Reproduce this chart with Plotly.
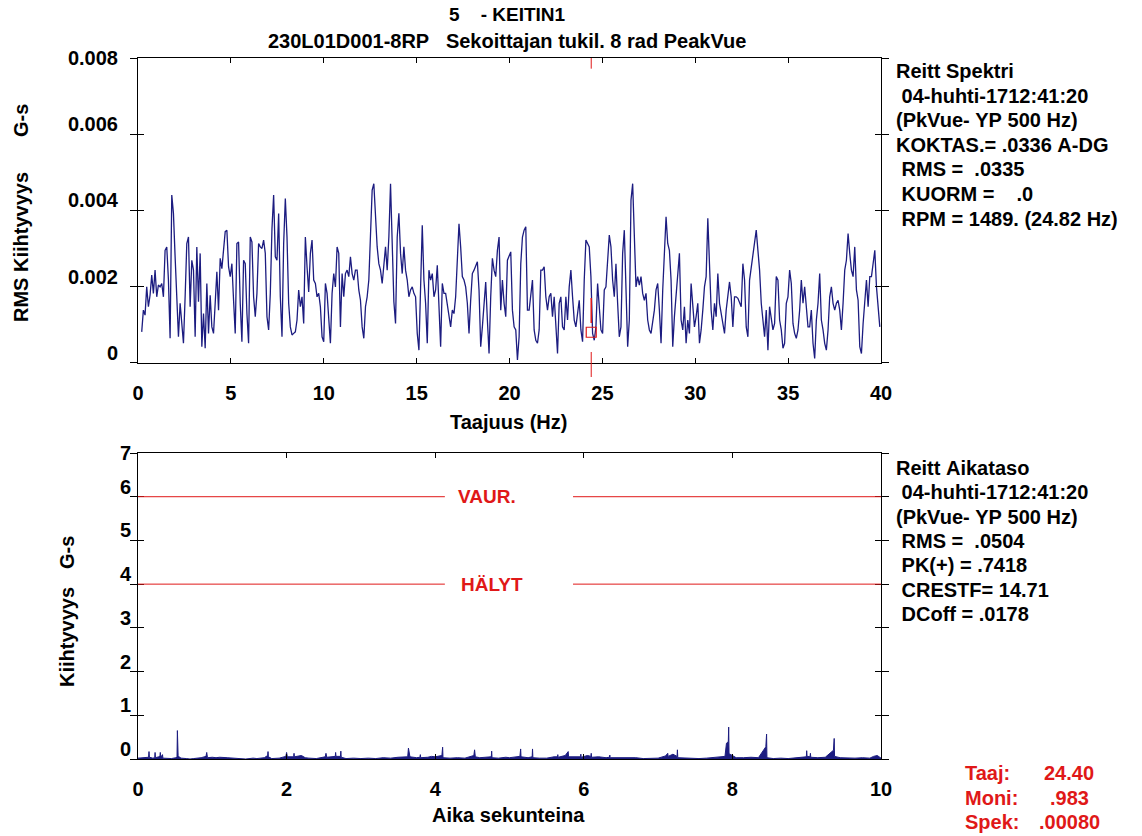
import plotly.graph_objects as go

# ---------------- data ----------------
# Spectrum (RMS acceleration, in milli G-s), uniform line spacing
spec_f0_hz = 0.2
spec_df_hz = 0.0899
spec_mg = [
    0.81, 1.38, 1.25, 1.99, 1.47, 1.77, 2.30, 1.82, 2.43, 1.73,
    2.04, 1.99, 2.08, 1.73, 2.95, 3.04, 2.17, 0.64, 4.40, 3.92,
    2.78, 1.56, 0.68, 1.56, 1.03, 0.51, 1.73, 3.13, 3.30, 1.47,
    2.69, 2.43, 0.68, 3.04, 1.60, 2.87, 0.42, 1.29, 0.38, 2.08,
    0.77, 1.77, 0.94, 0.77, 1.56, 2.39, 1.38, 2.74, 2.47, 2.87,
    3.44, 3.48, 2.52, 2.26, 2.60, 1.64, 0.77, 3.13, 3.17, 1.56,
    0.55, 2.69, 2.60, 1.29, 0.51, 3.30, 3.17, 1.73, 1.21, 1.82,
    3.13, 3.04, 3.00, 3.22, 2.87, 1.21, 0.86, 1.82, 3.52, 4.40,
    2.78, 2.69, 3.92, 1.73, 0.68, 3.13, 4.31, 3.30, 1.56, 0.94,
    0.73, 0.77, 0.81, 1.12, 1.91, 1.47, 1.73, 1.03, 3.30, 2.52,
    1.86, 2.87, 3.22, 2.17, 2.08, 1.73, 1.82, 1.47, 0.68, 0.55,
    2.08, 1.82, 1.21, 0.51, 1.82, 2.34, 1.99, 3.04, 2.87, 0.94,
    2.34, 1.73, 2.34, 2.43, 2.26, 2.78, 2.34, 2.17, 2.43, 2.43,
    1.91, 1.64, 0.94, 0.64, 1.47, 1.73, 2.17, 3.39, 4.53, 4.70,
    3.74, 3.04, 2.60, 2.43, 2.08, 2.69, 3.04, 2.43, 3.30,
    4.70, 3.30, 1.60, 1.03, 3.30, 3.92, 2.87, 2.34, 3.04, 2.43,
    2.17, 1.73, 1.91, 1.99, 1.82, 1.73, 0.77, 0.33, 2.43, 3.61,
    2.17, 1.56, 0.51, 2.43, 2.17, 2.34, 1.73, 1.91, 2.56, 1.21,
    0.42, 2.08, 1.82, 1.82, 1.56, 1.21, 0.94, 1.38, 1.29, 1.73,
    2.95, 3.65, 3.04, 2.26, 2.17, 1.99, 1.56, 0.77, 1.64, 2.34,
    2.43, 2.52, 2.65, 1.91, 0.42, 0.94, 1.56, 2.12, 1.12, 0.24,
    1.73, 2.74, 2.43, 2.26, 2.95, 3.30, 1.38, 2.17, 1.56, 1.21,
    2.69, 2.78, 2.91, 1.38, 0.94, 0.86, 0.07, 0.68, 2.60, 3.30,
    3.48, 3.57, 1.38, 1.38, 1.73, 2.17, 0.86, 0.59, 0.51, 0.86,
    2.43, 2.43, 2.52, 1.73, 1.38, 1.73, 1.82, 1.21, 1.73, 0.77,
    0.24, 1.56, 1.73, 0.94, 0.86, 1.73, 1.12, 1.99, 2.43, 1.73,
    1.12, 0.94, 1.29, 1.64, 0.86, 0.55, 2.17, 3.22, 3.13, 3.04,
    2.26, 0.77, 0.59, 0.94, 2.08, 1.38, 0.86, 0.77, 1.91, 1.99,
    2.87, 3.35, 3.04, 2.17, 1.73, 2.60, 1.56, 0.68, 0.94, 2.87,
    3.48, 1.82, 0.42, 1.12, 4.27, 4.70,
    3.30, 1.99, 2.26, 2.04, 2.26, 1.82, 1.64, 1.82, 1.12, 0.86,
    0.77, 1.03, 1.38, 1.91, 2.08, 1.38, 0.51, 1.91, 2.95, 3.83,
    3.13, 2.95, 2.17, 0.42, 1.21, 1.73, 2.17, 2.87, 1.12, 0.86,
    1.47, 0.51, 1.12, 0.77, 2.08, 1.56, 0.94, 1.21, 1.56, 0.51,
    0.86, 1.38, 1.99, 2.26, 3.79, 2.60, 1.38, 0.86, 1.56, 1.21,
    2.34, 1.56, 1.29, 1.12, 0.77, 1.38, 1.82, 2.12, 1.73, 0.94,
    1.73, 1.73, 1.69, 1.56, 1.47, 2.60, 2.17, 0.94, 0.68, 2.17,
    2.52, 2.87, 3.22, 3.48, 2.95, 2.43, 1.56, 1.03, 0.68, 1.38,
    0.33, 1.47, 1.21, 0.86, 1.03, 2.26, 2.17, 1.12, 0.86, 0.38,
    0.51, 1.56, 1.73, 2.43, 2.08, 1.03, 0.77, 0.64, 0.86, 1.38,
    2.17, 1.56, 1.99, 1.38, 0.94, 0.94, 1.38, 0.51, 0.11, 1.12,
    1.56, 2.34, 1.12, 0.86, 0.51, 0.33, 0.86, 1.73, 1.99, 1.56,
    1.38, 1.56, 1.64, 1.38, 0.86, 1.56, 2.43, 2.69, 3.39, 2.87,
    2.43, 2.26, 3.04, 1.91, 1.64, 0.42, 0.24, 1.03, 1.73, 2.17,
    1.47, 2.26, 2.26, 2.56, 2.95, 1.99, 1.56, 0.94,
]
spec_freq = [spec_f0_hz + i * spec_df_hz for i in range(len(spec_mg))]
spec_gs = [v / 1000.0 for v in spec_mg]

# Time waveform (PeakVue, G-s)
wave_t = [
    0.00, 0.06, 0.10, 0.143, 0.148, 0.153, 0.20, 0.225, 0.23, 0.235,
    0.28, 0.295, 0.30, 0.305, 0.325, 0.33, 0.335, 0.40, 0.45, 0.51,
    0.525, 0.53, 0.535, 0.54, 0.55, 0.58, 0.65, 0.70, 0.75, 0.80,
    0.85, 0.915, 0.925, 0.935, 1.00, 1.05, 1.10, 1.20, 1.30, 1.35,
    1.45, 1.55, 1.60, 1.70, 1.745, 1.75, 1.755, 1.80, 1.90, 1.99,
    2.00, 2.01, 2.06, 2.095, 2.10, 2.105, 2.20, 2.25, 2.30, 2.40,
    2.52, 2.53, 2.54, 2.62, 2.655, 2.66, 2.665, 2.725, 2.73, 2.735,
    2.80, 2.90, 3.00, 3.10, 3.20, 3.30, 3.40, 3.50, 3.63, 3.64,
    3.65, 3.66, 3.75, 3.795, 3.80, 3.805, 3.90, 3.95, 4.00, 4.09,
    4.10, 4.105, 4.20, 4.30, 4.40, 4.52, 4.53, 4.54, 4.60, 4.70,
    4.755, 4.76, 4.765, 4.85, 4.95, 5.00, 5.14, 5.15, 5.155, 5.25,
    5.305, 5.31, 5.315, 5.40, 5.50, 5.60, 5.645, 5.65, 5.655, 5.75,
    5.79, 5.795, 5.90, 5.955, 5.96, 5.965, 6.05, 6.095, 6.10, 6.105,
    6.20, 6.30, 6.345, 6.35, 6.355, 6.50, 6.60, 6.70, 6.80, 6.90,
    7.00, 7.10, 7.13, 7.135, 7.20, 7.255, 7.26, 7.265, 7.40, 7.45,
    7.55, 7.65, 7.75, 7.90, 7.92, 7.945, 7.95, 7.955, 7.98, 8.05,
    8.15, 8.25, 8.35, 8.45, 8.46, 8.465, 8.55, 8.65, 8.75, 8.85,
    8.95, 8.995, 9.00, 9.005, 9.045, 9.05, 9.055, 9.15, 9.25, 9.36,
    9.37, 9.375, 9.45, 9.55, 9.65, 9.75, 9.85, 9.90, 9.95, 10.00,
]
wave_g = [
    0.02, 0.03, 0.02, 0.04, 0.17, 0.04, 0.02, 0.03, 0.15, 0.03,
    0.05, 0.06, 0.15, 0.08, 0.06, 0.10, 0.02, 0.02, 0.01, 0.03,
    0.04, 0.65, 0.30, 0.08, 0.05, 0.02, 0.01, 0.00, 0.01, 0.02,
    0.03, 0.06, 0.15, 0.03, 0.04, 0.03, 0.04, 0.03, 0.02, 0.01,
    0.00, 0.02, 0.01, 0.03, 0.08, 0.17, 0.05, 0.01, 0.02, 0.06,
    0.15, 0.05, 0.04, 0.05, 0.13, 0.05, 0.08, 0.03, 0.02, 0.01,
    0.05, 0.13, 0.04, 0.05, 0.06, 0.15, 0.06, 0.06, 0.18, 0.04,
    0.01, 0.02, 0.01, 0.02, 0.01, 0.03, 0.02, 0.04, 0.05, 0.25,
    0.15, 0.05, 0.03, 0.04, 0.10, 0.03, 0.04, 0.06, 0.05, 0.08,
    0.27, 0.03, 0.02, 0.03, 0.02, 0.08, 0.21, 0.05, 0.03, 0.04,
    0.05, 0.18, 0.03, 0.02, 0.04, 0.03, 0.06, 0.23, 0.05, 0.03,
    0.05, 0.23, 0.03, 0.02, 0.02, 0.05, 0.05, 0.10, 0.04, 0.08,
    0.17, 0.05, 0.06, 0.05, 0.11, 0.04, 0.08, 0.06, 0.13, 0.04,
    0.05, 0.03, 0.04, 0.09, 0.03, 0.03, 0.02, 0.03, 0.01, 0.01,
    0.02, 0.07, 0.13, 0.06, 0.11, 0.06, 0.21, 0.03, 0.02, 0.02,
    0.01, 0.02, 0.03, 0.06, 0.36, 0.40, 0.73, 0.12, 0.10, 0.03,
    0.03, 0.04, 0.03, 0.28, 0.57, 0.03, 0.01, 0.02, 0.01, 0.02,
    0.03, 0.05, 0.19, 0.06, 0.05, 0.13, 0.04, 0.03, 0.04, 0.20,
    0.47, 0.06, 0.03, 0.02, 0.02, 0.03, 0.02, 0.06, 0.08, 0.02,
]

spec_yticks = [0, 0.002, 0.004, 0.006, 0.008]
spec_yticktext = ["0", "0.002", "0.004", "0.006", "0.008"]
wave_yticks = [0, 1, 2, 3, 4, 5, 6, 7]
wave_yticktext = ["0", "1", "2", "3", "4", "5", "6", "7"]

alarm_levels = [6, 4]
alarm_labels = ["VAUR.", "HÄLYT"]
alarm_gap = [4.13, 5.855]          # seconds, gap left for the label
alarm_label_t = [4.70, 4.76]

cursor_hz = 24.40
cursor_amp = 0.00080

spec_info = ["Reitt Spektri", " 04-huhti-1712:41:20", "(PkVue- YP 500 Hz)",
             "KOKTAS.= .0336 A-DG", " RMS =  .0335", " KUORM =    .0",
             " RPM = 1489. (24.82 Hz)"]
wave_info = ["Reitt Aikataso", " 04-huhti-1712:41:20", "(PkVue- YP 500 Hz)",
             " RMS =  .0504", " PK(+) = .7418", " CRESTF= 14.71", " DCoff = .0178"]
cursor_keys = ["Taaj:", "Moni:", "Spek:"]
cursor_vals = ["24.40", ".983", ".00080"]

# ---------------- layout helpers ----------------
W, H = 1142, 836
L, R, T, B = 138, 261, 58, 77
PW, PH = W - L - R, H - T - B


def px(x):
    return (x - L) / PW


def py(y):
    return (H - B - y) / PH


FAM = "Liberation Sans, Arial, sans-serif"
NAVY = "#1c1c80"
RED = "#e01818"


def f(size=20, color="black"):
    return dict(family=FAM, size=size, color=color, weight="bold")


top_dom = [py(362.7), 1.0]
bot_dom = [0.0, py(453)]

fig = go.Figure()
fig.add_trace(go.Scatter(x=spec_freq, y=spec_gs, mode="lines", line=dict(color=NAVY, width=1.3),
                         xaxis="x", yaxis="y", showlegend=False))
fig.add_trace(go.Scatter(x=wave_t, y=wave_g, mode="lines", line=dict(color=NAVY, width=1),
                         fill="tozeroy", fillcolor=NAVY, xaxis="x2", yaxis="y2", showlegend=False))
fig.add_trace(go.Scatter(x=[cursor_hz], y=[cursor_amp], mode="markers",
                         marker=dict(symbol="square-open", size=10, color=RED, line=dict(width=1.2, color=RED)),
                         xaxis="x", yaxis="y", showlegend=False))
# invisible carriers so the overlay (tick/label) axes get drawn
for ya in ["y3", "y5"]:
    fig.add_trace(go.Scatter(x=[cursor_hz], y=[cursor_amp], mode="markers", marker=dict(opacity=0),
                             xaxis="x", yaxis=ya, showlegend=False, hoverinfo="skip"))
for ya in ["y4", "y6"]:
    fig.add_trace(go.Scatter(x=wave_t[:1], y=wave_g[:1], mode="markers", marker=dict(opacity=0),
                             xaxis="x2", yaxis=ya, showlegend=False, hoverinfo="skip"))

axis_common = dict(showline=True, linecolor="black", linewidth=1, showgrid=False, zeroline=False,
                   tickcolor="black", tickfont=f(20))
overlay_common = dict(showline=False, showgrid=False, zeroline=False, tickcolor="black", tickfont=f(20))

fig.update_layout(
    width=W, height=H, margin=dict(l=L, r=R, t=T, b=B),
    paper_bgcolor="white", plot_bgcolor="white",
    xaxis=dict(domain=[0, 1], anchor="y", range=[0, 40], dtick=5, tick0=0, ticks="inside", ticklen=5,
               mirror="ticks", ticklabelstandoff=12, **axis_common),
    # main top y axis: outside ticks, labels raised above their ticks (top label handled by yaxis5)
    yaxis=dict(domain=top_dom, anchor="x", range=[0, 0.008], tickvals=spec_yticks,
               ticktext=spec_yticktext[:-1] + [""],
               ticks="outside", ticklen=7, mirror="ticks", ticklabelstandoff=8, ticklabelshift=-10,
               **axis_common),
    yaxis3=dict(overlaying="y", anchor="x", range=[0, 0.008], tickvals=spec_yticks, ticks="inside", ticklen=6,
                mirror="ticks", showticklabels=False, **overlay_common),
    yaxis5=dict(overlaying="y", anchor="x", range=[0, 0.008], tickvals=spec_yticks[-1:],
                ticktext=spec_yticktext[-1:], ticks="outside", ticklen=7, ticklabelstandoff=8,
                **overlay_common),
    xaxis2=dict(domain=[0, 1], anchor="y2", range=[0, 10], dtick=2, tick0=0, ticks="inside", ticklen=5,
                mirror="ticks", ticklabelstandoff=12, **axis_common),
    yaxis2=dict(domain=bot_dom, anchor="x2", range=[0, 7], tickvals=wave_yticks,
                ticktext=wave_yticktext[:-1] + [""], ticks="outside", ticklen=7,
                mirror="ticks", ticklabelstandoff=-5, ticklabelshift=-10, **axis_common),
    yaxis4=dict(overlaying="y2", anchor="x2", range=[0, 7], tickvals=wave_yticks, ticks="inside", ticklen=6,
                mirror="ticks", showticklabels=False, **overlay_common),
    yaxis6=dict(overlaying="y2", anchor="x2", range=[0, 7], tickvals=wave_yticks[-1:],
                ticktext=wave_yticktext[-1:], ticks="outside", ticklen=7, ticklabelstandoff=-5,
                **overlay_common),
)

shapes = []
# alarm lines
for lvl in alarm_levels:
    shapes.append(dict(type="line", xref="x2", yref="y2", x0=0, x1=alarm_gap[0], y0=lvl, y1=lvl,
                       line=dict(color=RED, width=1)))
    shapes.append(dict(type="line", xref="x2", yref="y2", x0=alarm_gap[1], x1=10, y0=lvl, y1=lvl,
                       line=dict(color=RED, width=1)))
# cursor pieces
shapes.append(dict(type="line", xref="x", yref="y", x0=cursor_hz, x1=cursor_hz, y0=0.00772, y1=0.008,
                   line=dict(color=RED, width=1)))
shapes.append(dict(type="line", xref="x", yref="y", x0=cursor_hz, x1=cursor_hz, y0=0.00104, y1=0.0017,
                   line=dict(color=RED, width=1.5)))
shapes.append(dict(type="line", xref="x", yref="paper", x0=cursor_hz, x1=cursor_hz, y0=py(377), y1=py(352),
                   line=dict(color=RED, width=1)))
fig.update_layout(shapes=shapes)

ann = []
# titles
ann.append(dict(x=px(507), y=py(15), xref="paper", yref="paper", text="5\u00a0\u00a0\u00a0 - KEITIN1",
                showarrow=False, font=f(19), xanchor="center", yanchor="middle"))
ann.append(dict(x=px(507), y=py(41), xref="paper", yref="paper",
                text="230L01D001-8RP\u00a0\u00a0 Sekoittajan tukil. 8 rad PeakVue",
                showarrow=False, font=f(20), xanchor="center", yanchor="middle"))
# axis titles
ann.append(dict(x=px(508), y=py(422), xref="paper", yref="paper", text="Taajuus (Hz)", showarrow=False,
                font=f(20), xanchor="center", yanchor="middle"))
ann.append(dict(x=px(508), y=py(815), xref="paper", yref="paper", text="Aika sekunteina", showarrow=False,
                font=f(20), xanchor="center", yanchor="middle"))
ann.append(dict(x=px(21), y=py(247), xref="paper", yref="paper", text="RMS Kiihtyvyys", textangle=-90,
                showarrow=False, font=f(20), xanchor="center", yanchor="middle"))
ann.append(dict(x=px(21), y=py(121), xref="paper", yref="paper", text="G-s", textangle=-90,
                showarrow=False, font=f(20), xanchor="center", yanchor="middle"))
ann.append(dict(x=px(67), y=py(637), xref="paper", yref="paper", text="Kiihtyvyys", textangle=-90,
                showarrow=False, font=f(20), xanchor="center", yanchor="middle"))
ann.append(dict(x=px(67), y=py(553), xref="paper", yref="paper", text="G-s", textangle=-90,
                showarrow=False, font=f(20), xanchor="center", yanchor="middle"))
# alarm labels
for lvl, lab, tl in zip(alarm_levels, alarm_labels, alarm_label_t):
    ann.append(dict(x=tl, y=lvl, xref="x2", yref="y2", text=lab, showarrow=False, font=f(19, RED),
                    xanchor="center", yanchor="middle"))
# info blocks
for i, s in enumerate(spec_info):
    ann.append(dict(x=px(894), y=py(71 + i * 24.6), xref="paper", yref="paper",
                    text=s.replace(" ", "\u00a0"), showarrow=False, font=f(20),
                    xanchor="left", yanchor="middle"))
for i, s in enumerate(wave_info):
    ann.append(dict(x=px(894), y=py(468 + i * 24.3), xref="paper", yref="paper",
                    text=s.replace(" ", "\u00a0"), showarrow=False, font=f(20),
                    xanchor="left", yanchor="middle"))
for i, (k, v) in enumerate(zip(cursor_keys, cursor_vals)):
    ann.append(dict(x=px(963), y=py(773 + i * 24.5), xref="paper", yref="paper", text=k, showarrow=False,
                    font=f(20, RED), xanchor="left", yanchor="middle"))
    ann.append(dict(x=px(1069), y=py(773 + i * 24.5), xref="paper", yref="paper", text=v, showarrow=False,
                    font=f(20, RED), xanchor="center", yanchor="middle"))
fig.update_layout(annotations=ann)

fig.write_html("out.html", config={"displayModeBar": False},
               post_script="document.body.style.margin='0px';")
